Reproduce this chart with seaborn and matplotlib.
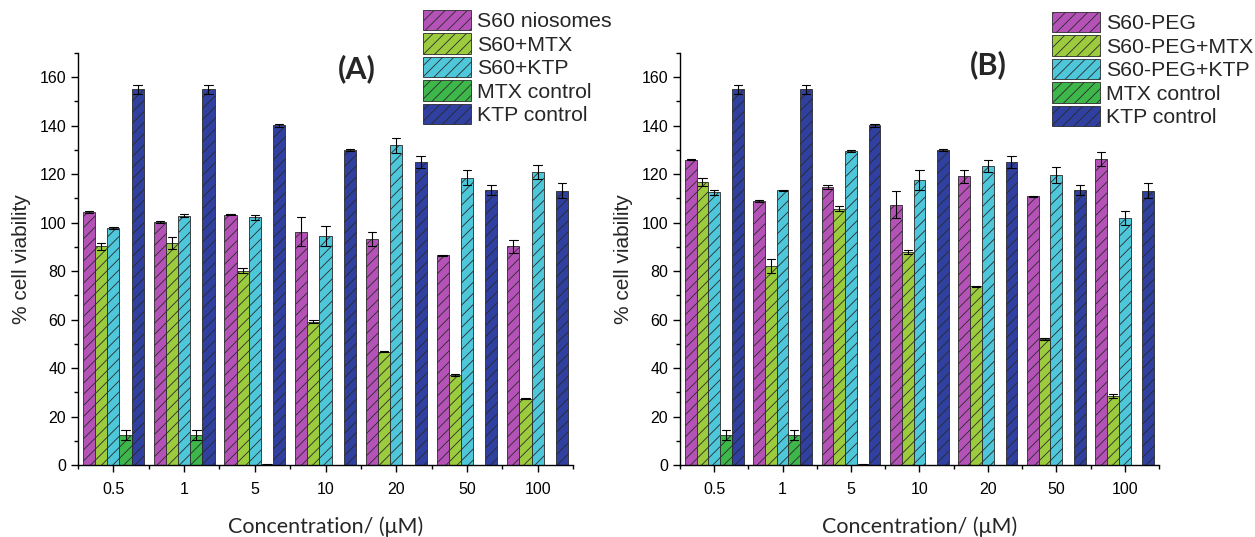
import numpy as np
import pandas as pd
import matplotlib
matplotlib.use("Agg")
import matplotlib.pyplot as plt
import seaborn as sns
from matplotlib.patches import Patch
from matplotlib.ticker import FixedLocator, MultipleLocator

# ---------------- data ----------------
concentrations = ["0.5", "1", "5", "10", "20", "50", "100"]
series_A = ["S60 niosomes", "S60+MTX", "S60+KTP", "MTX control", "KTP control"]
series_B = ["S60-PEG", "S60-PEG+MTX", "S60-PEG+KTP", "MTX control", "KTP control"]
nan = np.nan

# panel A
a_s60 = [104.3, 100.3, 103.3, 96.3, 93.2, 86.5, 90.2]
a_s60_err = [0.3, 0.5, 0.3, 6.0, 2.8, 0.3, 2.8]
a_s60_mtx = [90.2, 91.6, 80.2, 59.2, 46.8, 37.2, 27.3]
a_s60_mtx_err = [1.5, 2.5, 1.0, 0.7, 0.3, 0.3, 0.2]
a_s60_ktp = [97.8, 102.9, 102.2, 94.4, 131.9, 118.5, 120.9]
a_s60_ktp_err = [0.3, 0.5, 1.1, 4.1, 3.0, 3.1, 2.8]

# panel B
b_peg = [126.0, 109.0, 114.7, 107.4, 119.1, 110.9, 126.3]
b_peg_err = [0.3, 0.3, 1.0, 5.5, 2.8, 0.3, 2.8]
b_peg_mtx = [116.8, 82.0, 105.8, 87.9, 73.7, 52.1, 28.4]
b_peg_mtx_err = [1.5, 2.8, 1.0, 1.0, 0.2, 0.5, 0.8]
b_peg_ktp = [112.5, 113.4, 129.5, 117.5, 123.3, 119.6, 101.9]
b_peg_ktp_err = [1.0, 0.2, 0.5, 4.1, 2.5, 3.3, 2.8]

# controls (same in both panels)
mtx_control = [12.4, 12.4, 0.3, nan, nan, nan, nan]
mtx_control_err = [2.0, 2.0, 0.3, nan, nan, nan, nan]
ktp_control = [155.0, 155.0, 140.1, 129.9, 124.9, 113.6, 113.2]
ktp_control_err = [1.8, 1.8, 0.5, 0.3, 2.5, 2.0, 3.2]

colors = ["#B552B8", "#9CCB3E", "#4EC7DB", "#3DB64A", "#2F40A0"]


def long_table(names, values, errors):
    rows = []
    for name, vals, errs in zip(names, values, errors):
        for c, v, e in zip(concentrations, vals, errs):
            if np.isnan(v):
                continue
            rows.append({"conc": c, "series": name, "value": v - e})
            rows.append({"conc": c, "series": name, "value": v + e})
    return pd.DataFrame(rows)


df_A = long_table(series_A,
                  [a_s60, a_s60_mtx, a_s60_ktp, mtx_control, ktp_control],
                  [a_s60_err, a_s60_mtx_err, a_s60_ktp_err, mtx_control_err, ktp_control_err])
df_B = long_table(series_B,
                  [b_peg, b_peg_mtx, b_peg_ktp, mtx_control, ktp_control],
                  [b_peg_err, b_peg_mtx_err, b_peg_ktp_err, mtx_control_err, ktp_control_err])

# ---------------- style ----------------
sns.set_theme(style="ticks")
plt.rcParams["font.family"] = ["Liberation Sans", "DejaVu Sans"]
plt.rcParams["hatch.linewidth"] = 0.6
plt.rcParams["axes.linewidth"] = 1.0

fig = plt.figure(figsize=(12.55, 5.37), dpi=100)
ax_A = fig.add_axes([0.0622, 0.1341, 0.3944, 0.7672])
ax_B = fig.add_axes([0.5418, 0.1341, 0.3817, 0.7672])


def draw(ax, df, names, label, label_xy, legend_xy):
    sns.barplot(data=df, x="conc", y="value", hue="series",
                order=concentrations, hue_order=names, palette=colors,
                estimator="mean", errorbar=lambda x: (x.min(), x.max()),
                width=0.86, capsize=0.6, saturation=1,
                err_kws={"color": "black", "linewidth": 0.8},
                edgecolor="#2a2a2a", linewidth=0.6, legend=False, ax=ax)
    for p in ax.patches:
        p.set_hatch("///")
    ax.set_xlim(-0.5, 6.5)
    ax.set_ylim(0, 170)
    ax.yaxis.set_major_locator(FixedLocator(np.arange(0, 161, 20)))
    ax.yaxis.set_minor_locator(MultipleLocator(10))
    ax.xaxis.set_minor_locator(FixedLocator(np.arange(-0.5, 6.6, 1.0)))
    ax.tick_params(axis="both", which="major", direction="out", length=5,
                   width=1.0, labelsize=11.5, color="black", labelcolor="black")
    ax.tick_params(axis="x", which="major", pad=7)
    ax.tick_params(axis="both", which="minor", direction="out", length=3,
                   width=1.0, color="black")
    sns.despine(ax=ax)
    for s in ["left", "bottom"]:
        ax.spines[s].set_color("black")
    ax.set_ylabel("% cell viability", fontsize=15, labelpad=6)
    ax.set_xlabel("Concentration/ (\u03bcM)", fontsize=15.5,
                  family=["Lato", "DejaVu Sans"], labelpad=14)
    ax.text(label_xy[0], label_xy[1], label, transform=ax.transAxes,
            ha="center", va="center", fontsize=22, fontweight="bold",
            family=["Lato", "DejaVu Sans"])
    handles = [Patch(facecolor=c, edgecolor="#2a2a2a", hatch="///", linewidth=0.6)
               for c in colors]
    fig.legend(handles, names, loc="upper left", bbox_to_anchor=legend_xy,
               bbox_transform=fig.transFigure, frameon=False, fontsize=15.3,
               handlelength=2.25, handleheight=1.1, handletextpad=0.3,
               labelspacing=0.1, borderpad=0, borderaxespad=0)


draw(ax_A, df_A, series_A, "(A)", (0.564, 0.962), (0.337, 0.982))
draw(ax_B, df_B, series_B, "(B)", (0.643, 0.972), (0.838, 0.978))

fig.savefig("out.png", dpi=100)
